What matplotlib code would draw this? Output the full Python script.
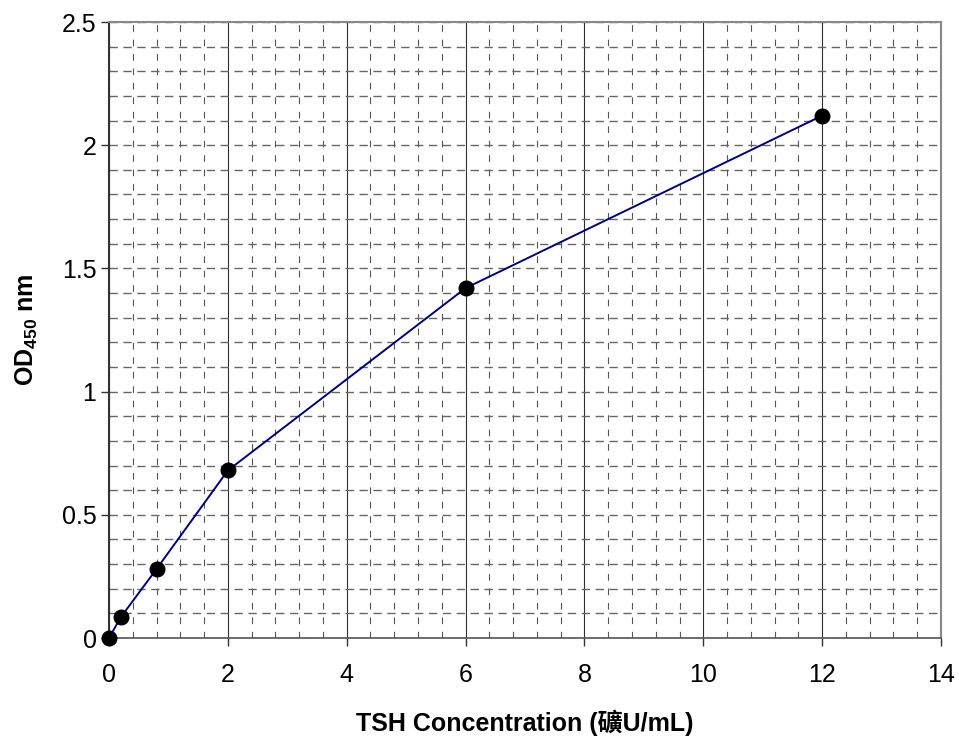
import matplotlib
matplotlib.use("Agg")
import matplotlib.pyplot as plt
from matplotlib.ticker import MultipleLocator

conc = [0, 0.2, 0.8, 2, 6, 12]
od = [0, 0.085, 0.28, 0.68, 1.42, 2.12]
xticks = [0, 2, 4, 6, 8, 10, 12, 14]
yticks = [0, 0.5, 1, 1.5, 2, 2.5]
ytick_labels = ["0", "0.5", "1", "1.5", "2", "2.5"]

plt.rcParams['font.family'] = ['Liberation Sans', 'Noto Sans CJK SC', 'DejaVu Sans']
plt.rcParams['mathtext.fontset'] = 'custom'
plt.rcParams['mathtext.rm'] = 'Liberation Sans'
plt.rcParams['mathtext.bf'] = 'Liberation Sans:bold'

fig = plt.figure(figsize=(9.59, 7.38), dpi=100)
ax = fig.add_axes([109/959, 1-638/738, (941-109)/959, (638-22)/738])

ax.set_xlim(0, 14)
ax.set_ylim(0, 2.5)
ax.set_xticks(xticks)
ax.set_xticklabels([str(t) for t in xticks])
ax.set_yticks(yticks)
ax.set_yticklabels(ytick_labels)
ax.xaxis.set_minor_locator(MultipleLocator(0.4))
ax.yaxis.set_minor_locator(MultipleLocator(0.1))

# grid
ax.grid(which='major', axis='x', color='#303030', linestyle='-', linewidth=0.8)
ax.grid(which='minor', axis='x', color='#555555', linestyle=(0, (6, 7)), linewidth=0.8)
ax.grid(which='both', axis='y', color='#666666', linestyle=(0, (6, 4)), linewidth=1.0)
ax.set_axisbelow(True)

ax.plot(conc, od, color='#000080', linewidth=1.4, zorder=3, clip_on=False)
ax.plot(conc, od, linestyle='none', marker='o', markersize=10.5, color='black', zorder=4, clip_on=False)

for s in ['top', 'right']:
    ax.spines[s].set_color('#888888')
    ax.spines[s].set_linewidth(1.5)
ax.spines['left'].set_color('#333333')
ax.spines['left'].set_linewidth(1.5)
ax.spines['bottom'].set_color('#555555')
ax.spines['bottom'].set_linewidth(1.2)

ax.tick_params(axis='both', which='major', direction='out', length=6, width=1, labelsize=18, colors='#333333', labelcolor='black')
ax.tick_params(axis='both', which='minor', length=0)
ax.tick_params(axis='x', pad=12)
ax.tick_params(axis='y', pad=3)

ax.set_xlabel("TSH Concentration (礦U/mL)", fontsize=18, fontweight='bold', labelpad=16)
ax.set_ylabel(r"OD$_{\mathbf{450}}$ nm", fontsize=18, fontweight='bold', labelpad=16)

fig.savefig("out.png", dpi=100)
